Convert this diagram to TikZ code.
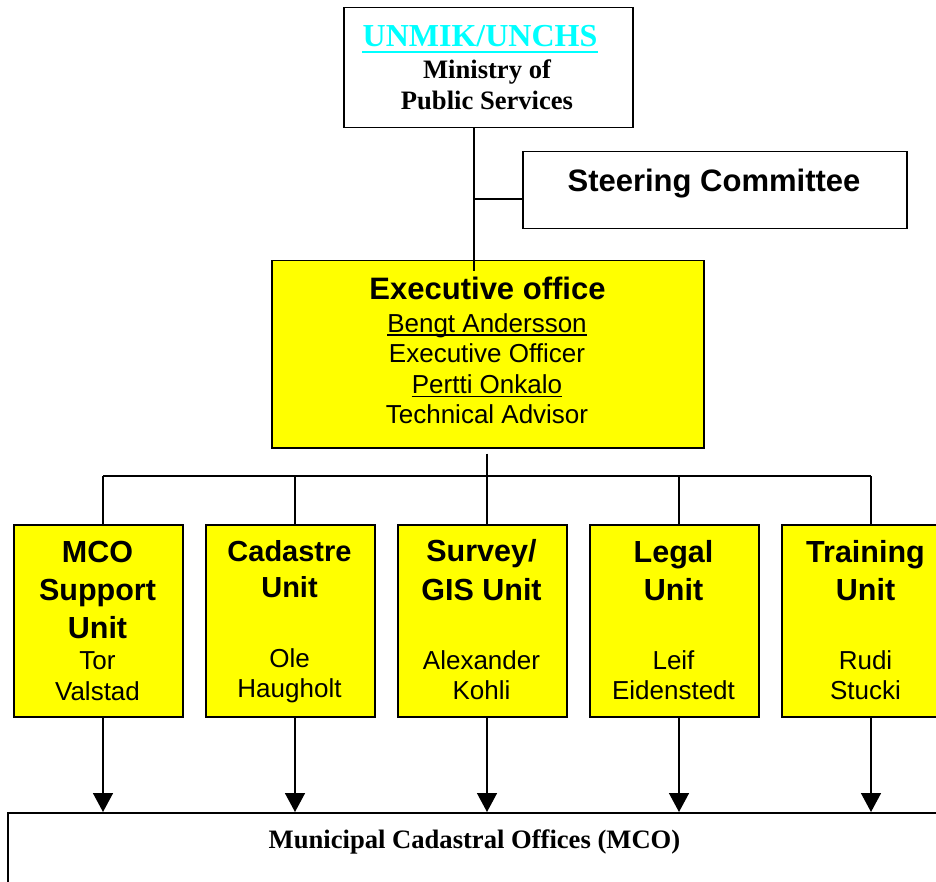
\documentclass[tikz,border=0pt]{standalone}
\usepackage{fontspec}
\setmainfont{Liberation Serif}
\setsansfont{Liberation Sans}
\usetikzlibrary{arrows.meta}
\definecolor{boxyellow}{RGB}{255,255,0}
\definecolor{linkcyan}{RGB}{0,255,255}

\begin{document}
\begin{tikzpicture}[x=1pt,y=-1pt,
  frame/.style={draw=black,line width=1.5pt,inner sep=0pt,anchor=north west},
  yframe/.style={frame,fill=boxyellow},
  unitbox/.style={yframe,minimum width=169pt,minimum height=192pt},
  wire/.style={line width=1.5pt},
  arr/.style={line width=1.5pt,-{Triangle[width=20pt,length=19pt]}},
  uline/.style={line width=1.6pt},
  txt/.style={inner sep=0pt,anchor=base},
  head/.style={txt,font=\sffamily\bfseries\fontsize{31}{31}\selectfont},
  utitle/.style={txt,font=\sffamily\bfseries\fontsize{30.5}{30.5}\selectfont},
  pname/.style={txt,font=\sffamily\fontsize{26}{26}\selectfont},
  serif/.style={txt,font=\rmfamily\bfseries\fontsize{26.6}{26.6}\selectfont}]

% canvas
\clip (0,0) rectangle (936,882);
\fill[white] (0,0) rectangle (936,882);

% ---- boxes ----
\node[frame,minimum width=289pt,minimum height=120pt] (top) at (343,7) {};
\node[frame,minimum width=384pt,minimum height=77pt] (steer) at (522,151) {};
\node[yframe,minimum width=432pt,minimum height=187pt] (exec) at (271,260) {};
\node[unitbox] (u1) at (13,524) {};
\node[unitbox] (u2) at (205,524) {};
\node[unitbox] (u3) at (397,524) {};
\node[unitbox] (u4) at (589,524) {};
\node[unitbox] (u5) at (781,524) {};
\node[frame,minimum width=960pt,minimum height=100pt] (mco) at (7,812) {};

% ---- top box text ----
\node[txt,font=\rmfamily\bfseries\fontsize{32}{32}\selectfont,text=linkcyan] (unmik) at (480,47) {UNMIK/UNCHS};
\draw[uline,linkcyan,line width=2.5pt] ([yshift=-5pt]unmik.base west) -- ([yshift=-5pt]unmik.base east);
\node[serif] (ministry) at (487,79) {Ministry of};
\node[serif] (pubserv) at (487,110) {Public Services};

% ---- steering committee ----
\node[head] (steertxt) at (714,192) {Steering Committee};

% ---- executive office ----
\node[head] (exechd) at (487.5,300) {Executive office};
\node[pname] (bengt) at (487,332) {Bengt Andersson};
\draw[uline] ([yshift=-3pt]bengt.base west) -- ([yshift=-3pt]bengt.base east);
\node[pname] (eo) at (487,362) {Executive Officer};
\node[pname] (pertti) at (487,393) {Pertti Onkalo};
\draw[uline] ([yshift=-3.5pt]pertti.base west) -- ([yshift=-3.5pt]pertti.base east);
\node[pname] (ta) at (487,423) {Technical Advisor};

% ---- unit texts ----
\node[utitle] (u1a) at (97.5,562) {MCO};
\node[utitle] (u1b) at (97.5,600) {Support};
\node[utitle] (u1c) at (97.5,638) {Unit};
\node[pname] (u1d) at (97.5,669) {Tor};
\node[pname] (u1e) at (97.5,700) {Valstad};

\node[utitle,font=\sffamily\bfseries\fontsize{29}{29}\selectfont] (u2a) at (289.5,561) {Cadastre};
\node[utitle,font=\sffamily\bfseries\fontsize{29}{29}\selectfont] (u2b) at (289.5,597) {Unit};
\node[pname] (u2d) at (289.5,667) {Ole};
\node[pname] (u2e) at (289.5,697) {Haugholt};

\node[utitle] (u3a) at (481.5,561) {Survey/};
\node[utitle] (u3b) at (481.5,600) {GIS Unit};
\node[pname] (u3d) at (481.5,669) {Alexander};
\node[pname] (u3e) at (481.5,699) {Kohli};

\node[utitle] (u4a) at (673.5,562) {Legal};
\node[utitle] (u4b) at (673.5,600) {Unit};
\node[pname] (u4d) at (673.5,669) {Leif};
\node[pname] (u4e) at (673.5,699) {Eidenstedt};

\node[utitle] (u5a) at (865.5,562) {Training};
\node[utitle] (u5b) at (865.5,600) {Unit};
\node[pname] (u5d) at (865.5,669) {Rudi};
\node[pname] (u5e) at (865.5,699) {Stucki};

% ---- municipal offices ----
\node[serif] (mcotxt) at (474.5,848) {Municipal Cadastral Offices (MCO)};

% ---- connectors ----
\coordinate (jn) at (474,199);
\coordinate (stem) at (474,271);
\draw[wire] (top.south -| jn) -- (stem);
\draw[wire] (jn) -- (jn -| steer.west);

\coordinate (bus) at (487,476);
\coordinate (c1) at (103,476);
\coordinate (c2) at (295,476);
\coordinate (c3) at (487,476);
\coordinate (c4) at (679,476);
\coordinate (c5) at (871,476);
\draw[wire,shorten <=5pt] (exec.south -| bus) -- (bus);
\draw[wire] (c1) -- (c5);
\foreach \i in {1,...,5}{
  \draw[wire] (c\i) -- (c\i |- u\i.north);
  \draw[arr] (c\i |- u\i.south) -- (c\i |- mco.north);
}
\end{tikzpicture}
\end{document}
